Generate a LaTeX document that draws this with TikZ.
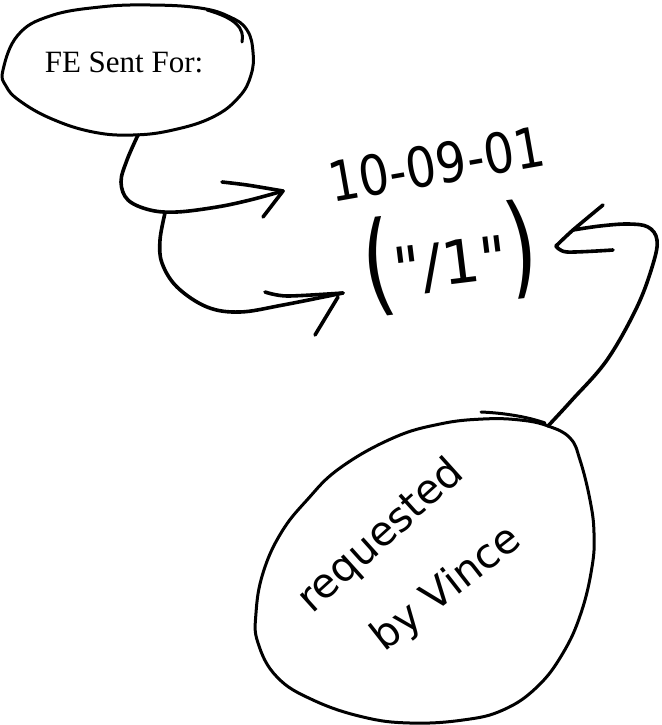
\documentclass[tikz,border=0pt]{standalone}
\usepackage{fontspec}
\setmainfont{Liberation Serif}
\newfontfamily\handfont{DejaVu Sans}
\begin{document}
\begin{tikzpicture}[x=1pt,y=-1pt,
  pen/.style={line width=3.6pt,line cap=round,line join=round},
  rim/.style={line width=3pt,line cap=round,line join=round},
  hand/.style={font=\handfont,inner sep=0pt}]
\useasboundingbox (0,0) rectangle (661,725);

% ---- upper bubble: "FE Sent For:"
\draw[rim] plot[smooth cycle,tension=0.7] coordinates {
  (3,70) (18,35) (50,16) (100,7) (150,5) (200,8) (230,17) (247,30)
  (253,52) (251,75) (239,97) (213,117) (173,130) (133,135) (93,132)
  (52,119) (20,101) (6,86)};
\draw[rim] (207,10) .. controls (235,18) and (245,28) .. (242,42);
\node[font=\fontsize{31}{31}\selectfont,anchor=base,inner sep=0pt] (fe) at (124,72) {FE Sent For:};
\coordinate (fe-out) at (138,135);

% ---- the date and the code
\node[hand,rotate=10,anchor=base] (date) at (440,184)
  {\scalebox{1}[1.15]{\fontsize{48}{48}\selectfont 10-09-01}};
\node[hand,rotate=7] (code) at (450,258)
  {\scalebox{1.1}[1.55]{\fontsize{72}{72}\selectfont(}\raisebox{8pt}{\fontsize{60}{60}\selectfont"/1"}\scalebox{1.1}[1.55]{\fontsize{72}{72}\selectfont)}};
\coordinate (date-in) at (283,191);
\coordinate (code-in-left) at (343,293);
\coordinate (code-in-right) at (556,246);

% ---- lower bubble: "requested by Vince"
\draw[rim] plot[smooth cycle,tension=0.7] coordinates {
  (340,468) (393,438) (440,424) (483,419) (520,420) (548,426) (570,438)
  (580,460) (590,500) (594,533) (592,567) (581,613) (563,653) (537,687)
  (503,710) (463,720) (410,723) (363,717) (313,700) (277,677) (258,643)
  (256,613) (263,573) (281,533) (307,500)};
\draw[rim] (481,412) .. controls (505,413) and (528,417) .. (545,423);
\node[hand,font=\handfont\fontsize{41}{41}\selectfont,rotate=42,anchor=base] (req) at (389,545) {requested};
\node[hand,font=\handfont\fontsize{41}{41}\selectfont,rotate=38,anchor=base] (vince) at (454,598) {by Vince};
\coordinate (vince-out) at (548,426);

% ---- connector: bubble -> date
\draw[pen] plot[smooth,tension=0.6] coordinates {
  (fe-out) (127,160) (121,182) (128,200) (150,210) (177,212) (217,207) (250,200) (date-in)};
\draw[pen] plot[smooth] coordinates {(222,182) (247,185) (date-in)};
\draw[pen] (date-in) -- (263,217);

% ---- connector: branch -> code (from the left)
\coordinate (branch) at (165,213);
\draw[pen] plot[smooth,tension=0.6] coordinates {
  (branch) (160,240) (162,263) (177,287) (207,307) (240,312) (283,305) (code-in-left)};
\draw[pen] plot[smooth] coordinates {(265,292) (287,296) (code-in-left)};
\draw[pen] (338,297) -- (315,335);

% ---- connector: lower bubble -> code (from the right)
\draw[pen] plot[smooth,tension=0.6] coordinates {
  (vince-out) (572,400) (607,360) (637,307) (653,264) (657,240) (648,227)
  (628,224) (600,226) (573,230)};
\draw[pen] plot[smooth] coordinates {(603,205) (573,230) (code-in-right)};
\draw[pen] plot[smooth] coordinates {(code-in-right) (567,252) (613,250)};
\end{tikzpicture}
\end{document}
